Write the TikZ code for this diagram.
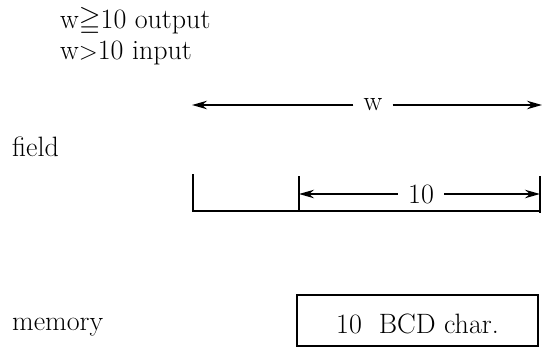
\documentclass[tikz,border=0pt]{standalone}
\usepackage{amssymb}
\usetikzlibrary{arrows.meta}
\begin{document}
\begin{tikzpicture}[x=1pt,y=-1pt,
  txt/.style={inner sep=0pt,font=\fontsize{28}{32}\selectfont},
  lbl/.style={txt,anchor=base west},
  dimlbl/.style={txt,inner xsep=10pt},
  ln/.style={line width=1.7pt},
  arr/.style={ln,-{Stealth[length=15pt,width=8.5pt]}}]
\useasboundingbox (0,0) rectangle (543,348);
% top texts
\node[lbl] (out) at (60,28) {w$\geqq$10 output};
\node[lbl] (inp) at (60,59) {w$>$10 input};
% w dimension
\node[dimlbl] (wlab) at (373,105) {w};
\coordinate (wL) at (192,105);
\coordinate (wR) at (542,105);
\draw[arr] (wlab.west) -- (wL);
\draw[arr] (wlab.east) -- (wR);
% field
\node[lbl] (field) at (12,156) {field};
\coordinate (fa) at (193,174);
\coordinate (fb) at (193,211);
\coordinate (fc) at (540,211);
\coordinate (ma) at (299,176);
\coordinate (mb) at (299,211);
\coordinate (ra) at (540,176);
\coordinate (rb) at (540,213);
\draw[ln] (fa) -- (fb) -- (fc);
\draw[ln] (ma) -- (mb);
\draw[ln] (ra) -- (rb);
\node[dimlbl] (ten) at (421,194) {10};
\coordinate (tL) at (299,194);
\coordinate (tR) at (540,194);
\draw[arr] (ten.west) -- (tL);
\draw[arr] (ten.east) -- (tR);
% memory
\node[lbl] (memory) at (12,330) {memory};
\node[txt,draw,line width=1.7pt,minimum width=241pt,minimum height=51pt,
  text height=25pt,text depth=0pt] (box) at (417.5,320.5)
  {10\hspace{0.3em} BCD char.};
\end{tikzpicture}
\end{document}
